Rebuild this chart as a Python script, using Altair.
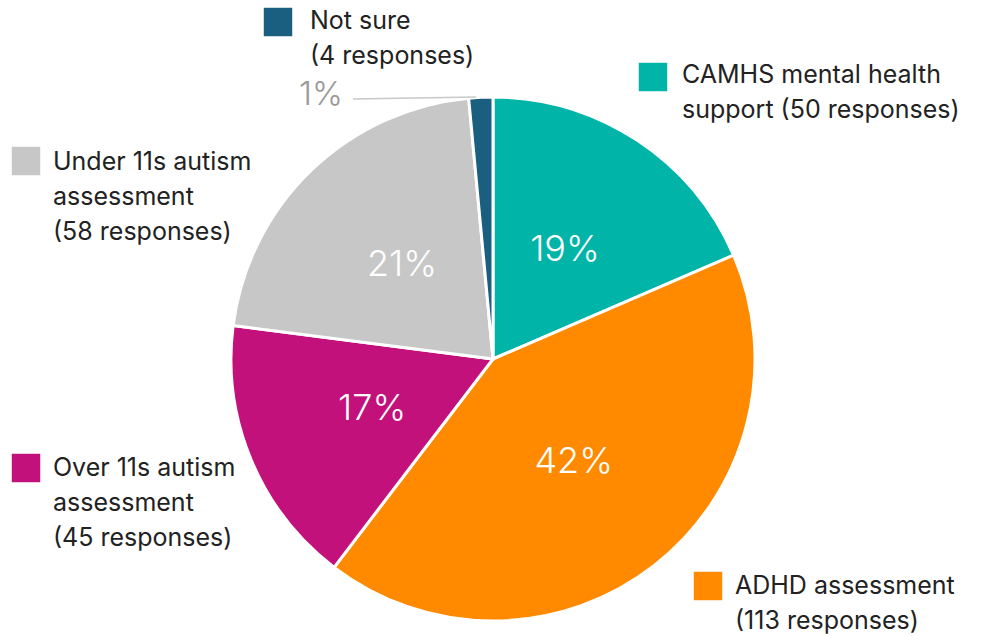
import altair as alt
import pandas as pd

# ---- data ----
categories = [
    "CAMHS mental health support",
    "ADHD assessment",
    "Over 11s autism assessment",
    "Under 11s autism assessment",
    "Not sure",
]
responses = [50, 113, 45, 58, 4]
colors = ["#00B4A7", "#FF8A00", "#C2117A", "#C7C7C7", "#1A5E80"]
label_text = [
    ["CAMHS mental health", "support (50 responses)"],
    ["ADHD assessment", "(113 responses)"],
    ["Over 11s autism", "assessment", "(45 responses)"],
    ["Under 11s autism", "assessment", "(58 responses)"],
    ["Not sure", "(4 responses)"],
]

# ---- layout (annotation placement, pixels) ----
CX, CY, R = 493, 359, 262
label_xy = [(682, 83), (735, 594), (53, 476), (53, 170), (310, 29)]
square_xy = [(653, 77), (708, 586), (26, 468), (26, 161), (278, 22)]
FONT = "Inter"

total = sum(responses)
pct = [f"{round(v / total * 100)}%" for v in responses]

df = pd.DataFrame({
    "category": categories,
    "responses": responses,
    "order": list(range(len(categories))),
    "pct": pct,
})

cscale = alt.Scale(domain=categories, range=colors)

base = alt.Chart(df).encode(
    theta=alt.Theta("responses:Q", stack=True),
    order=alt.Order("order:Q"),
)

pie = base.mark_arc(outerRadius=R, stroke="white", strokeWidth=3).encode(
    color=alt.Color("category:N", scale=cscale, legend=None),
    x=alt.value(CX), y=alt.value(CY),
)

inner = base.mark_text(
    radius=131, fontSize=36, font=FONT, fontWeight=300, color="white",
    align="center", baseline="middle",
).encode(
    text="pct:N", x=alt.value(CX), y=alt.value(CY),
).transform_filter("datum.responses > 10")

# small slice label outside with leader line
small = alt.Chart(df).transform_filter("datum.responses <= 10").mark_text(
    fontSize=33, font=FONT, fontWeight=300, color="#9A9A9A", align="left", baseline="alphabetic"
).encode(text="pct:N", x=alt.value(299), y=alt.value(105))

leader = alt.Chart(df).transform_filter("datum.responses <= 10").mark_rule(
    color="#C8C8C8", strokeWidth=1.5
).encode(x=alt.value(353), y=alt.value(99), x2=alt.value(476), y2=alt.value(97))

# legend-like labels
leg_rows = []
for i, cat in enumerate(categories):
    leg_rows.append({
        "category": cat,
        "text": label_text[i],
        "tx": label_xy[i][0], "ty": label_xy[i][1],
        "sx": square_xy[i][0], "sy": square_xy[i][1],
    })
leg_df = pd.DataFrame(leg_rows)

squares = alt.Chart(leg_df).mark_square(size=810, opacity=1, filled=True).encode(
    x=alt.X("sx:Q", scale=alt.Scale(domain=[0, 981]), axis=None),
    y=alt.Y("sy:Q", scale=alt.Scale(domain=[0, 636], reverse=True), axis=None),
    color=alt.Color("category:N", scale=cscale, legend=None),
)

texts = alt.Chart(leg_df).mark_text(
    fontSize=25, font=FONT, color="#222222", align="left", baseline="alphabetic",
    lineHeight=35,
).encode(
    x=alt.X("tx:Q", scale=alt.Scale(domain=[0, 981]), axis=None),
    y=alt.Y("ty:Q", scale=alt.Scale(domain=[0, 636], reverse=True), axis=None),
    text="text",
)

chart = alt.layer(pie, inner, leader, small, squares, texts).properties(
    width=981, height=636, padding=0, autosize=alt.AutoSizeParams(type="none"),
    background="white",
).configure_view(stroke=None).resolve_scale(color="shared")

chart.save("out.html", embed_options={"renderer": "svg", "actions": False})
